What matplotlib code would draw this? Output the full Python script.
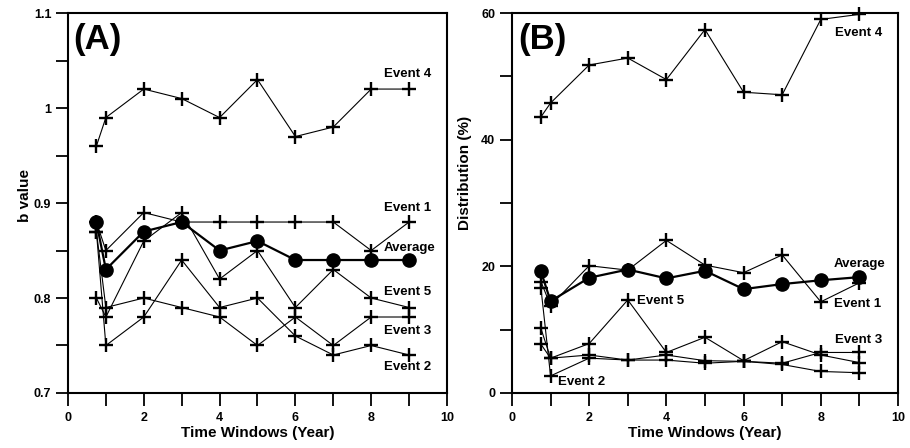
import numpy as np
import matplotlib
matplotlib.use('Agg')
import matplotlib.pyplot as plt
from matplotlib.ticker import MultipleLocator, FuncFormatter

plt.rcParams['font.family'] = ['Liberation Sans', 'DejaVu Sans']
plt.rcParams['font.weight'] = 'bold'

# time windows (years)
years = [0.75, 1, 2, 3, 4, 5, 6, 7, 8, 9]

# (A) b value per event
b_event1 = [0.88, 0.85, 0.89, 0.88, 0.88, 0.88, 0.88, 0.88, 0.85, 0.88]
b_event2 = [0.87, 0.75, 0.78, 0.84, 0.79, 0.80, 0.76, 0.74, 0.75, 0.74]
b_event3 = [0.87, 0.79, 0.80, 0.79, 0.78, 0.75, 0.78, 0.75, 0.78, 0.78]
b_event4 = [0.96, 0.99, 1.02, 1.01, 0.99, 1.03, 0.97, 0.98, 1.02, 1.02]
b_event5 = [0.80, 0.78, 0.86, 0.89, 0.82, 0.85, 0.79, 0.83, 0.80, 0.79]
b_average = [0.88, 0.83, 0.87, 0.88, 0.85, 0.86, 0.84, 0.84, 0.84, 0.84]

# (B) distribution (%) per event
d_event1 = [17.6, 13.8, 20.1, 19.4, 24.1, 20.2, 19.0, 21.8, 14.4, 17.4]
d_event2 = [16.6, 2.7, 5.5, 5.2, 5.2, 4.7, 5.0, 4.5, 3.4, 3.2]
d_event3 = [7.7, 5.5, 6.0, 5.2, 6.0, 5.1, 5.0, 4.7, 6.4, 6.4]
d_event4 = [43.6, 45.8, 51.8, 52.9, 49.5, 57.4, 47.5, 47.1, 59.0, 59.8]
d_event5 = [10.2, 5.5, 7.8, 14.7, 6.4, 8.8, 5.1, 8.1, 6.0, 4.8]
d_average = [19.2, 14.5, 18.2, 19.5, 18.1, 19.3, 16.4, 17.2, 17.8, 18.3]

fig = plt.figure(figsize=(9.1, 4.48), dpi=100)
axA = fig.add_axes([0.0747, 0.1228, 0.4165, 0.848])
axB = fig.add_axes([0.5626, 0.1228, 0.4242, 0.848])


def draw_panel(ax, events, average):
    for ev in events:
        ax.plot(years, ev, color='black', lw=0.8, marker='+', ms=9.5,
                mew=1.7, clip_on=False, zorder=2)
    ax.plot(years, average, color='black', lw=1.6, marker='o', ms=9.5,
            clip_on=False, zorder=3)
    ax.set_xlim(0, 10)
    ax.xaxis.set_major_locator(MultipleLocator(2))
    ax.xaxis.set_minor_locator(MultipleLocator(1))
    ax.tick_params(which='both', direction='out', length=9, width=1.3,
                   labelsize=9, top=False, right=False)
    ax.tick_params(axis='x', pad=5)
    ax.tick_params(axis='y', pad=3)
    for s in ax.spines.values():
        s.set_linewidth(1.5)
    ax.set_xlabel('Time Windows (Year)', fontsize=11, fontweight='bold', labelpad=1)


draw_panel(axA, [b_event1, b_event2, b_event3, b_event4, b_event5], b_average)
axA.set_ylim(0.7, 1.1)
axA.yaxis.set_major_locator(MultipleLocator(0.1))
axA.yaxis.set_minor_locator(MultipleLocator(0.05))
axA.yaxis.set_major_formatter(FuncFormatter(lambda v, p: '%g' % round(v, 2)))
axA.set_ylabel('b value', fontsize=11, fontweight='bold')
axA.yaxis.set_label_coords(-0.095, 0.52)
axA.text(0.015, 0.975, '(A)', transform=axA.transAxes, fontsize=25,
         fontweight='bold', ha='left', va='top')
for label, x, y in [('Event 4', 8.34, 1.036), ('Event 1', 8.34, 0.895),
                    ('Average', 8.34, 0.853), ('Event 5', 8.34, 0.806),
                    ('Event 3', 8.34, 0.765), ('Event 2', 8.34, 0.727)]:
    axA.text(x, y, label, fontsize=9.5, fontweight='bold', va='center', ha='left')

draw_panel(axB, [d_event1, d_event2, d_event3, d_event4, d_event5], d_average)
axB.set_ylim(0, 60)
axB.yaxis.set_major_locator(MultipleLocator(20))
axB.yaxis.set_minor_locator(MultipleLocator(10))
axB.set_ylabel('Distribution (%)', fontsize=11, fontweight='bold')
axB.yaxis.set_label_coords(-0.104, 0.58)
axB.text(0.015, 0.975, '(B)', transform=axB.transAxes, fontsize=25,
         fontweight='bold', ha='left', va='top')
for label, x, y in [('Event 4', 8.37, 56.9), ('Average', 8.34, 20.3),
                    ('Event 1', 8.34, 14.0), ('Event 5', 3.25, 14.5),
                    ('Event 3', 8.36, 8.4), ('Event 2', 1.2, 1.7)]:
    axB.text(x, y, label, fontsize=9.5, fontweight='bold', va='center', ha='left')

fig.savefig('out.png', dpi=100)
